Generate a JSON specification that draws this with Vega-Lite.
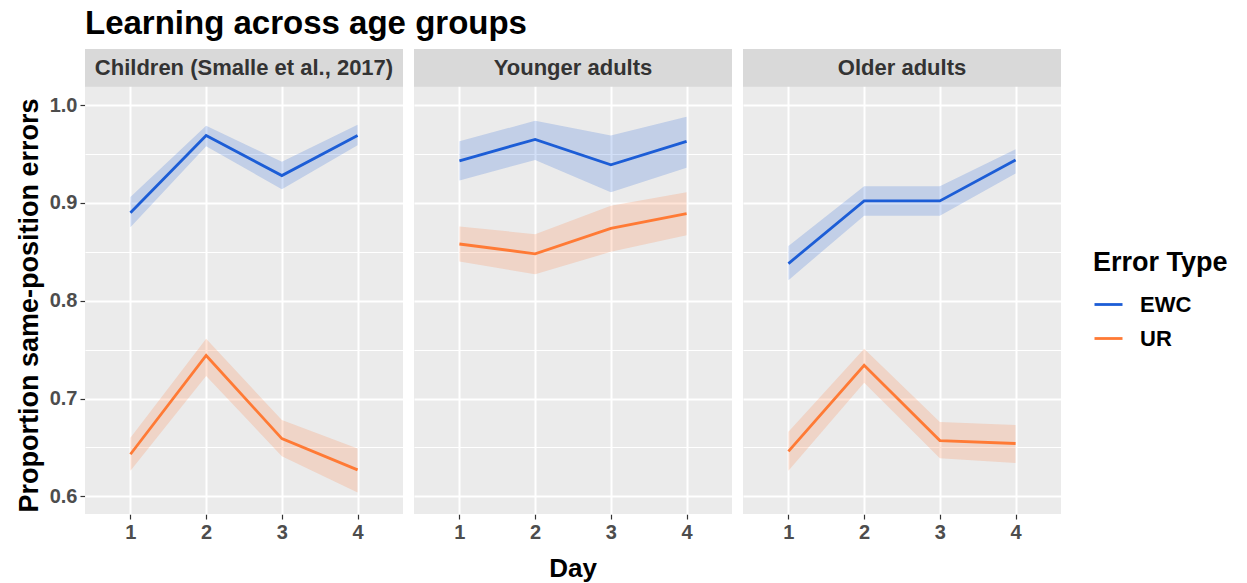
{
  "$schema": "https://vega.github.io/schema/vega-lite/v6.json",
  "background": "white",
  "padding": {"left": 15, "top": 8, "right": 4, "bottom": 2},
  "title": {"text": "Learning across age groups", "anchor": "start", "frame": "group", "fontSize": 33, "fontWeight": "bold", "color": "#000000", "offset": 8},
  "config": {
    "font": "Liberation Sans",
    "view": {"fill": "#EBEBEB", "stroke": null},
    "axis": {"domain": false, "gridColor": "#FFFFFF", "tickColor": "#333333", "tickSize": 5, "tickWidth": 1.2, "labelColor": "#4D4D4D", "labelFont": "Liberation Sans", "labelFontWeight": "bold", "labelFontSize": 20, "labelPadding": 3, "titleFontWeight": "bold", "titleColor": "#000000", "titleFontSize": 27}
  },
  "data": {"values": [
    {"group": "Children (Smalle et al., 2017)", "day": 1, "type": "EWC", "m": 0.890, "lo": 0.875, "hi": 0.906},
    {"group": "Children (Smalle et al., 2017)", "day": 2, "type": "EWC", "m": 0.969, "lo": 0.958, "hi": 0.979},
    {"group": "Children (Smalle et al., 2017)", "day": 3, "type": "EWC", "m": 0.928, "lo": 0.914, "hi": 0.942},
    {"group": "Children (Smalle et al., 2017)", "day": 4, "type": "EWC", "m": 0.969, "lo": 0.959, "hi": 0.980},
    {"group": "Children (Smalle et al., 2017)", "day": 1, "type": "UR", "m": 0.643, "lo": 0.626, "hi": 0.660},
    {"group": "Children (Smalle et al., 2017)", "day": 2, "type": "UR", "m": 0.744, "lo": 0.723, "hi": 0.761},
    {"group": "Children (Smalle et al., 2017)", "day": 3, "type": "UR", "m": 0.659, "lo": 0.641, "hi": 0.678},
    {"group": "Children (Smalle et al., 2017)", "day": 4, "type": "UR", "m": 0.627, "lo": 0.604, "hi": 0.649},
    {"group": "Younger adults", "day": 1, "type": "EWC", "m": 0.943, "lo": 0.923, "hi": 0.963},
    {"group": "Younger adults", "day": 2, "type": "EWC", "m": 0.965, "lo": 0.944, "hi": 0.984},
    {"group": "Younger adults", "day": 3, "type": "EWC", "m": 0.939, "lo": 0.911, "hi": 0.969},
    {"group": "Younger adults", "day": 4, "type": "EWC", "m": 0.963, "lo": 0.936, "hi": 0.988},
    {"group": "Younger adults", "day": 1, "type": "UR", "m": 0.858, "lo": 0.840, "hi": 0.876},
    {"group": "Younger adults", "day": 2, "type": "UR", "m": 0.848, "lo": 0.827, "hi": 0.868},
    {"group": "Younger adults", "day": 3, "type": "UR", "m": 0.874, "lo": 0.850, "hi": 0.897},
    {"group": "Younger adults", "day": 4, "type": "UR", "m": 0.889, "lo": 0.867, "hi": 0.911},
    {"group": "Older adults", "day": 1, "type": "EWC", "m": 0.838, "lo": 0.821, "hi": 0.856},
    {"group": "Older adults", "day": 2, "type": "EWC", "m": 0.902, "lo": 0.887, "hi": 0.917},
    {"group": "Older adults", "day": 3, "type": "EWC", "m": 0.902, "lo": 0.887, "hi": 0.917},
    {"group": "Older adults", "day": 4, "type": "EWC", "m": 0.944, "lo": 0.930, "hi": 0.955},
    {"group": "Older adults", "day": 1, "type": "UR", "m": 0.646, "lo": 0.626, "hi": 0.666},
    {"group": "Older adults", "day": 2, "type": "UR", "m": 0.734, "lo": 0.716, "hi": 0.751},
    {"group": "Older adults", "day": 3, "type": "UR", "m": 0.657, "lo": 0.639, "hi": 0.676},
    {"group": "Older adults", "day": 4, "type": "UR", "m": 0.654, "lo": 0.634, "hi": 0.673}
  ]},
  "facet": {
    "column": {
      "field": "group", "type": "nominal",
      "sort": ["Children (Smalle et al., 2017)", "Younger adults", "Older adults"],
      "title": "Day",
      "header": {"labels": false, "titleOrient": "bottom", "titleFontSize": 26, "titleFontWeight": "bold", "titleColor": "#000000", "titlePadding": 4, "titleFont": "Liberation Sans"}
    }
  },
  "spacing": 11,
  "spec": {
    "width": 318,
    "height": 465,
    "layer": [
      {
        "mark": {"type": "area", "opacity": 0.2},
        "encoding": {
          "x": {"field": "day", "type": "quantitative", "scale": {"domain": [0.4, 4.6], "nice": false, "zero": false},
                "axis": {"title": null, "values": [1, 2, 3, 4], "format": "d", "gridWidth": 2}},
          "y": {"field": "lo", "type": "quantitative", "scale": {"domain": [0.5819, 1.0574], "nice": false, "zero": false},
                "axis": {"title": "Proportion same-position errors", "titlePadding": 6, "titleY": 256,
                         "values": [0.6, 0.65, 0.7, 0.75, 0.8, 0.85, 0.9, 0.95, 1.0],
                         "labelExpr": "round(datum.value*100) % 10 == 0 ? format(datum.value, '.1f') : ''",
                         "gridWidth": {"condition": {"test": "round(datum.value*100) % 10 == 0", "value": 2}, "value": 1},
                         "tickOpacity": {"condition": {"test": "round(datum.value*100) % 10 == 0", "value": 1}, "value": 0}}},
          "y2": {"field": "hi"},
          "detail": {"field": "type", "type": "nominal"},
          "color": {"condition": {"test": "datum.type == 'EWC'", "value": "#1C5DD6"}, "value": "#FF7A35"}
        }
      },
      {
        "mark": {"type": "line", "strokeWidth": 2.8},
        "encoding": {
          "x": {"field": "day", "type": "quantitative"},
          "y": {"field": "m", "type": "quantitative"},
          "color": {"field": "type", "type": "nominal", "scale": {"domain": ["EWC", "UR"], "range": ["#1C5DD6", "#FF7A35"]},
                     "legend": {"title": "Error Type", "orient": "none", "legendX": 1008, "legendY": 201, "symbolType": "stroke", "symbolSize": 784, "symbolStrokeWidth": 2.8,
                                "titleFontSize": 27, "titleFontWeight": "bold", "titleColor": "#000000", "titlePadding": 12,
                                "labelFontSize": 22, "labelFontWeight": "bold", "labelColor": "#000000", "labelOffset": 16, "rowPadding": 7}}
        }
      },
      {
        "transform": [{"filter": "datum.day == 1 && datum.type == 'EWC'"}],
        "mark": {"type": "rect", "color": "#D9D9D9"},
        "encoding": {
          "x": {"datum": 0.4, "type": "quantitative"},
          "x2": {"datum": 4.6},
          "y": {"datum": 1.0188, "type": "quantitative"},
          "y2": {"datum": 1.0574}
        }
      },
      {
        "transform": [{"filter": "datum.day == 1 && datum.type == 'EWC'"}],
        "mark": {"type": "text", "fontSize": 22, "fontWeight": "bold", "color": "#333333", "align": "center", "baseline": "middle"},
        "encoding": {
          "x": {"datum": 2.5, "type": "quantitative"},
          "y": {"datum": 1.0381, "type": "quantitative"},
          "text": {"field": "group", "type": "nominal"}
        }
      }
    ]
  }
}
